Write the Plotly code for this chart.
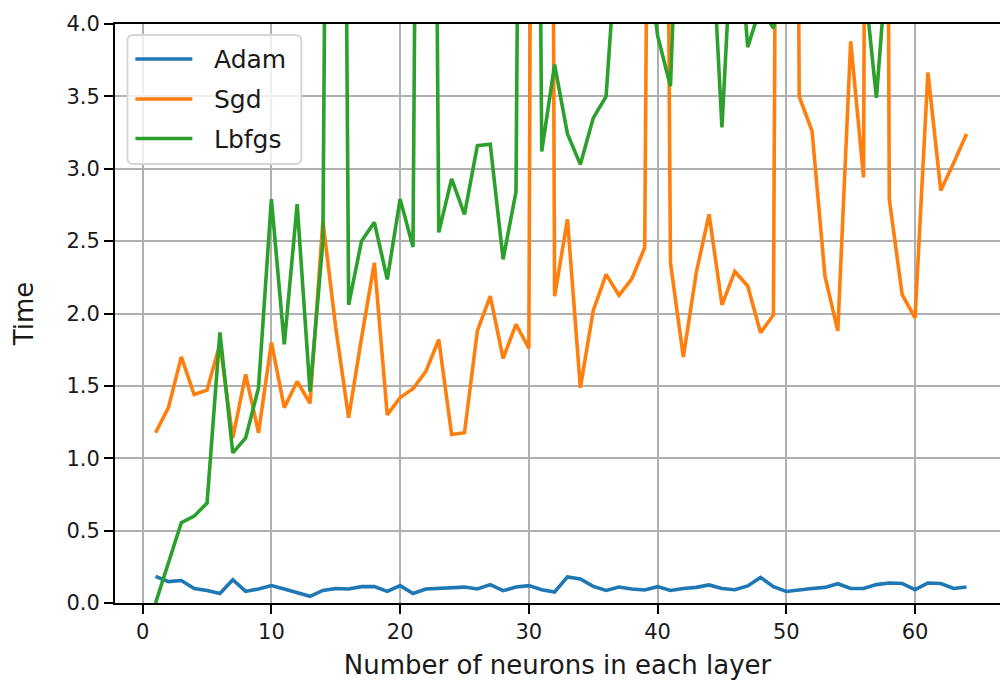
import plotly.graph_objects as go

neurons = list(range(1, 65))

adam = [0.184, 0.148, 0.155, 0.100, 0.087, 0.066, 0.161, 0.080, 0.097, 0.120,
        0.097, 0.069, 0.046, 0.087, 0.100, 0.097, 0.113, 0.113, 0.080, 0.120,
        0.066, 0.097, 0.100, 0.104, 0.110, 0.097, 0.127, 0.085, 0.110, 0.120,
        0.092, 0.076, 0.180, 0.166, 0.115, 0.087, 0.110, 0.097, 0.090, 0.113,
        0.087, 0.100, 0.108, 0.125, 0.100, 0.092, 0.118, 0.177, 0.113, 0.080,
        0.087, 0.100, 0.108, 0.133, 0.100, 0.100, 0.127, 0.138, 0.135, 0.092,
        0.138, 0.135, 0.100, 0.110]

sgd = [1.176, 1.35, 1.70, 1.44, 1.47, 1.79, 1.14, 1.58, 1.176, 1.80,
       1.35, 1.53, 1.38, 2.64, 1.90, 1.28, 1.83, 2.35, 1.30, 1.42,
       1.48, 1.60, 1.82, 1.164, 1.176, 1.88, 2.12, 1.69, 1.925, 1.76,
       25.0, 2.12, 2.65, 1.487, 2.02, 2.27, 2.125, 2.24, 2.455, 15.0,
       2.35, 1.70, 2.28, 2.685, 2.06, 2.29, 2.19, 1.867, 1.99, 20.0,
       3.50, 3.26, 2.26, 1.88, 3.88, 2.94, 25.0, 2.79, 2.13, 1.97,
       3.665, 2.85, 3.04, 3.24]

lbfgs = [0.0, 0.28, 0.555, 0.60, 0.69, 1.87, 1.037, 1.14, 1.487, 2.79,
         1.787, 2.755, 1.46, 2.50, 15.0, 2.06, 2.50, 2.63, 2.236, 2.79,
         2.46, 15.0, 2.56, 2.93, 2.685, 3.16, 3.17, 2.374, 2.84, 15.0,
         3.12, 3.72, 3.24, 3.03, 3.35, 3.50, 4.8, 5.0, 4.65, 3.92,
         3.57, 6.0, 6.0, 5.0, 3.285, 5.0, 3.84, 4.12, 3.97, 4.5,
         5.0, 4.8, 5.2, 4.9, 5.1, 4.35, 3.49, 4.65, 5.0, 4.9,
         5.3, 5.0, 5.2, 5.4]

series_names = ["Adam", "Sgd", "Lbfgs"]
colors = ["#1f77b4", "#ff7f0e", "#2ca02c"]

FONT = "DejaVu Sans"
TXT = "#1a1a1a"
FS_LEG = 25
FS_TICK = 21
FS_TITLE = 26

fig = go.Figure()
for name, vals, col in zip(series_names, [adam, sgd, lbfgs], colors):
    fig.add_trace(go.Scatter(x=neurons, y=vals, mode="lines", name=name,
                             line=dict(color=col, width=3.6), showlegend=False))

# plot area in pixels
L, R, T, B = 114.6, 1000.0, 24.0, 603.3
def px(X):
    return (X - L) / (R - L)
def py(Y):
    return (B - Y) / (B - T)

def rounded_rect(x0, y0, x1, y1, r):
    pts = [
        ("M", x0 + r, y0), ("L", x1 - r, y0), ("Q", x1, y0, x1, y0 + r),
        ("L", x1, y1 - r), ("Q", x1, y1, x1 - r, y1), ("L", x0 + r, y1),
        ("Q", x0, y1, x0, y1 - r), ("L", x0, y0 + r), ("Q", x0, y0, x0 + r, y0),
    ]
    parts = []
    for p in pts:
        if p[0] == "Q":
            parts.append("Q%.5f,%.5f %.5f,%.5f" % (px(p[1]), py(p[2]), px(p[3]), py(p[4])))
        else:
            parts.append("%s%.5f,%.5f" % (p[0], px(p[1]), py(p[2])))
    return " ".join(parts) + " Z"

shapes = []
annotations = []
# legend frame
shapes.append(dict(type="path", xref="paper", yref="paper",
                   path=rounded_rect(127, 35, 301, 164, 6),
                   line=dict(color="#d6d6d6", width=2),
                   fillcolor="rgba(255,255,255,0.8)", layer="above"))
leg_y = [59, 99, 138.5]
for name, col, yy in zip(series_names, colors, leg_y):
    shapes.append(dict(type="line", xref="paper", yref="paper",
                       x0=px(135), x1=px(192), y0=py(yy), y1=py(yy),
                       line=dict(color=col, width=3.6), layer="above"))
    annotations.append(dict(xref="paper", yref="paper", x=px(212), y=py(yy + 1),
                            text=name, showarrow=False, xanchor="left",
                            yanchor="middle",
                            font=dict(family=FONT, size=FS_LEG, color=TXT)))

fig.update_layout(
    width=1000, height=686,
    margin=dict(l=115, r=0, t=24, b=83, pad=0),
    paper_bgcolor="white", plot_bgcolor="white",
    font=dict(family=FONT, size=FS_TICK, color=TXT),
    shapes=shapes, annotations=annotations,
    xaxis=dict(range=[-2.15, 66.6], tick0=0, dtick=10, ticks="outside",
               ticklen=9, tickwidth=2, tickcolor="#000000",
               showline=True, linewidth=2, linecolor="#000000", mirror=True,
               showgrid=True, gridcolor="#b0b0b0", gridwidth=2, zeroline=False,
               tickfont=dict(family=FONT, size=FS_TICK, color=TXT),
               title=dict(text="Number of neurons in each layer", standoff=13,
                          font=dict(family=FONT, size=FS_TITLE, color=TXT))),
    yaxis=dict(range=[0, 4], tick0=0, dtick=0.5, tickformat=".1f", ticks="outside",
               ticklen=9, tickwidth=2, tickcolor="#000000",
               showline=True, linewidth=2, linecolor="#000000", mirror=False,
               showgrid=True, gridcolor="#b0b0b0", gridwidth=2, zeroline=False,
               tickfont=dict(family=FONT, size=FS_TICK, color=TXT),
               title=dict(text="Time", standoff=25,
                          font=dict(family=FONT, size=FS_TITLE, color=TXT))),
)

fig.write_html("out.html")
